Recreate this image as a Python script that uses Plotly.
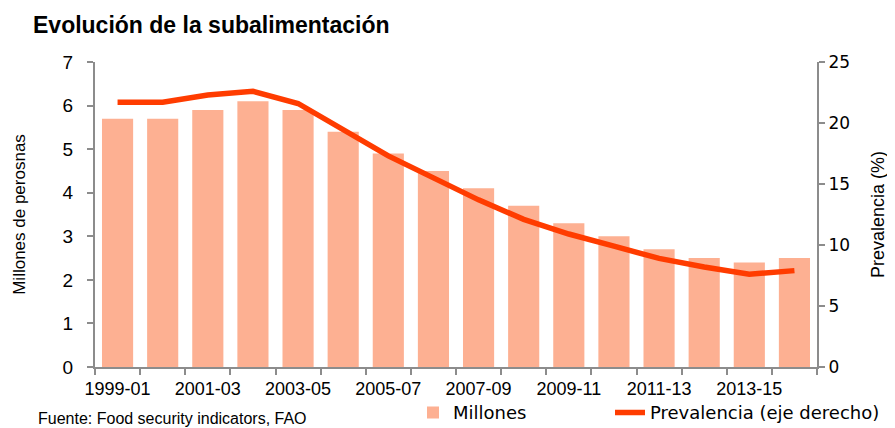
import plotly.graph_objects as go

periodos = ["1999-01", "2000-02", "2001-03", "2002-04", "2003-05", "2004-06",
            "2005-07", "2006-08", "2007-09", "2008-10", "2009-11", "2010-12",
            "2011-13", "2012-14", "2013-15", "2014-16"]
millones = [5.7, 5.7, 5.9, 6.1, 5.9, 5.4, 4.9, 4.5, 4.1, 3.7, 3.3, 3.0, 2.7, 2.5, 2.4, 2.5]
prevalencia = [21.7, 21.7, 22.3, 22.6, 21.6, 19.4, 17.3, 15.5, 13.7, 12.1, 10.9, 9.9,
               8.9, 8.2, 7.6, 7.9]
etiquetas = [p if i % 2 == 0 else "" for i, p in enumerate(periodos)]

AXIS_GREY = "#8c8c8c"
ARIAL = "Liberation Sans, Arial, sans-serif"
VERDANA = "DejaVu Sans, Verdana, sans-serif"

# the page keeps the browser's 8px body margin, so the figure is 8px smaller
W, H = 887, 420

fig = go.Figure()
fig.add_trace(go.Bar(x=periodos, y=millones, name="Millones", legend="legend",
                     marker=dict(color="#fdb092", line=dict(width=0))))
fig.add_trace(go.Scatter(x=periodos, y=prevalencia, name="Prevalencia (eje derecho)",
                         yaxis="y2", mode="lines", legend="legend2",
                         line=dict(color="#ff3c00", width=5.5)))

legend_style = dict(orientation="h", xanchor="left", y=-0.15, yanchor="middle",
                    font=dict(family=VERDANA, size=18, color="black"),
                    bgcolor="rgba(0,0,0,0)")

fig.update_layout(
    width=W, height=H,
    paper_bgcolor="white", plot_bgcolor="white",
    # fixed plot box, legends below must not push the margins
    margin=dict(l=87, r=78, t=54, b=61, autoexpand=False),
    bargap=0.31,
    title=dict(text="<b>Evolución de la subalimentación</b>",
               x=25 / W, xanchor="left", xref="container",
               y=1 - 17 / H, yanchor="middle", yref="container",
               font=dict(family=ARIAL, size=23, color="black")),
    xaxis=dict(type="category", tickvals=periodos, ticktext=etiquetas,
               tickson="boundaries", ticklabelstandoff=4,
               ticks="outside", ticklen=6, tickcolor=AXIS_GREY, tickwidth=2,
               showline=True, linecolor=AXIS_GREY, linewidth=2, showgrid=False,
               tickangle=0, tickfont=dict(family=ARIAL, size=18, color="black")),
    yaxis=dict(range=[0, 7], dtick=1, ticks="outside", ticklen=6,
               tickcolor=AXIS_GREY, tickwidth=2, showline=True, ticklabelstandoff=10,
               linecolor=AXIS_GREY, linewidth=2, showgrid=False, zeroline=False,
               tickfont=dict(family=ARIAL, size=19, color="black"),
               title=dict(text="Millones de perosnas", standoff=33,
                          font=dict(family=ARIAL, size=17, color="black"))),
    yaxis2=dict(range=[0, 25], dtick=5, overlaying="y", side="right",
                ticks="outside", ticklen=6, tickcolor=AXIS_GREY, tickwidth=2,
                showline=True, linecolor=AXIS_GREY, linewidth=2, showgrid=False,
                zeroline=False,
                tickfont=dict(family=VERDANA, size=17, color="black"),
                title=dict(text="Prevalencia (%)", standoff=22,
                           font=dict(family=ARIAL, size=18, color="black"))),
    legend=dict(x=(413 - 95) / 722, **legend_style),
    legend2=dict(x=(610 - 95) / 722, **legend_style),
    showlegend=True,
)

fig.add_annotation(text="Fuente: Food security indicators, FAO",
                   xref="paper", yref="paper", x=(36 - 95) / 722, y=(367 - 418) / 305,
                   xanchor="left", yanchor="middle", showarrow=False,
                   font=dict(family=ARIAL, size=16, color="black"))

fig.write_html("out.html")
